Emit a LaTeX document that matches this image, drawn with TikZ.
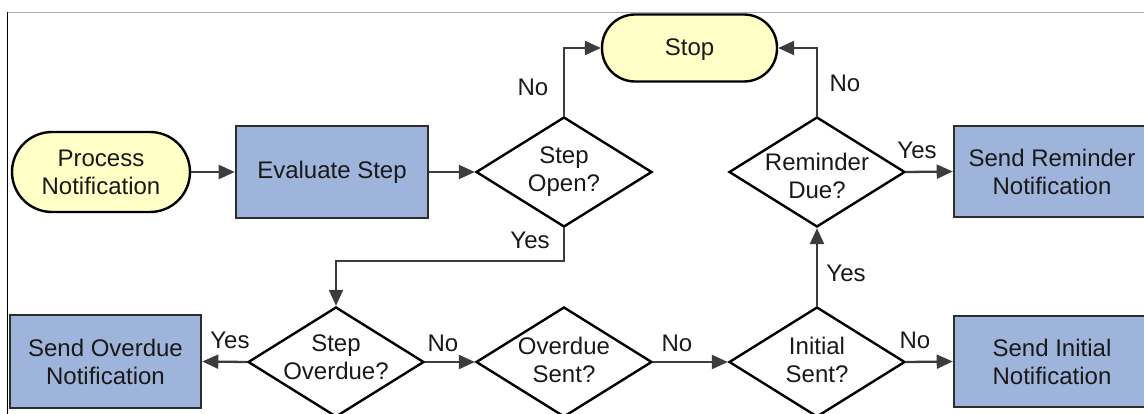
\documentclass[tikz,border=0pt]{standalone}
\usepackage{fontspec}
\setmainfont{Liberation Sans}
\usetikzlibrary{arrows.meta,shapes.geometric}
\definecolor{termfill}{RGB}{255,255,198}
\definecolor{procfill}{RGB}{158,180,218}
\definecolor{linegray}{RGB}{60,60,60}
\definecolor{boxedge}{RGB}{45,45,45}
\definecolor{framegray}{RGB}{170,170,170}
\definecolor{txt}{RGB}{25,25,25}
\begin{document}
\begin{tikzpicture}[x=1pt,y=-1pt,
  every node/.style={font=\fontsize{24}{28}\selectfont, text=txt},
  term/.style={draw=black, line width=2.4pt, fill=termfill, inner sep=0pt, align=center},
  proc/.style={rectangle, draw=boxedge, line width=2.6pt, fill=procfill, inner sep=0pt, align=center},
  decision/.style={diamond, draw=black, line width=2.4pt, fill=white, inner sep=0pt, minimum width=176pt, minimum height=110pt},
  dtext/.style={align=center, inner sep=0pt},
  lbl/.style={inner sep=0pt},
  arr/.style={draw=linegray, line width=2.3pt, -{Triangle[length=16pt,width=14pt]}}
]
\useasboundingbox (0,0) rectangle (1144,414);
\fill[white] (0,0) rectangle (1144,414);
% frame lines
\draw[framegray, line width=1pt] (7,12.5) -- (1144,12.5);
\draw[black, line width=1pt] (7.5,12) -- (7.5,414);

% nodes
\node[term, rounded corners=40pt, minimum width=178pt, minimum height=80pt] (pn) at (101,172) {Process\\Notification};
\node[proc, minimum width=192pt, minimum height=92pt] (ev) at (332,172) {Evaluate Step};
\node[decision] (so) at (564,172) {};
\node[dtext] (sot) at (564,172) {Step\\Open?};
\node[term, rounded corners=33pt, minimum width=175pt, minimum height=67pt] (st) at (689.5,48) {};
\node[dtext] (stt) at (689.5,49.5) {Stop};
\node[decision] (rd) at (817,172) {};
\node[dtext] (rdt) at (817,176) {Reminder\\Due?};
\node[proc, minimum width=196pt, minimum height=91pt] (sr) at (1052,171.5) {Send Reminder\\Notification};

\node[decision] (sov) at (336,362) {};
\node[dtext] (sovt) at (336,357) {Step\\Overdue?};
\node[proc, minimum width=191pt, minimum height=93pt] (son) at (105.5,361.5) {Send Overdue\\Notification};
\node[decision] (os) at (564,362) {};
\node[dtext] (ost) at (564,360) {Overdue\\Sent?};
\node[decision] (is) at (817,362) {};
\node[dtext] (ist) at (817,360) {Initial\\Sent?};
\node[proc, minimum width=196pt, minimum height=91pt] (si) at (1052,361.5) {Send Initial\\Notification};

% connectors
\draw[arr] (pn.east) -- (ev.west);
\draw[arr] (ev.east) -- (so.west);
\draw[arr] (so.north) |- (st.west);
\draw[arr] (rd.north) |- (st.east);
\draw[arr] (rd.east) -- (sr.west);
\draw[arr] (so.south) -- ++(0,33) -| (sov.north);
\draw[arr] (sov.west) -- (son.east);
\draw[arr] (sov.east) -- (os.west);
\draw[arr] (os.east) -- (is.west);
\draw[arr] (is.north) -- (rd.south);
\draw[arr] (is.east) -- (si.west);

% labels
\node[lbl] (l1) at (533,87) {No};
\node[lbl] (l2) at (845,83) {No};
\node[lbl] (l3) at (917,150) {Yes};
\node[lbl] (l4) at (530,240) {Yes};
\node[lbl] (l5) at (230,340) {Yes};
\node[lbl] (l6) at (443,343) {No};
\node[lbl] (l7) at (677,343) {No};
\node[lbl] (l8) at (846,273) {Yes};
\node[lbl] (l9) at (915,340) {No};
\end{tikzpicture}
\end{document}
